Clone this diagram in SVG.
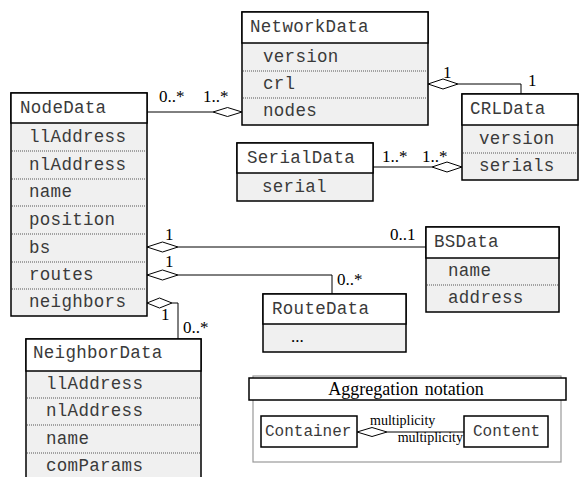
<svg xmlns="http://www.w3.org/2000/svg" width="579" height="477" viewBox="0 0 579 477">
<style>
.box{fill:#f0f0f0;stroke:#000;stroke-width:1.5}
.hdr{fill:#fff;stroke:#000;stroke-width:1.5}
.sep{stroke:#555;stroke-width:1;stroke-dasharray:1,1}
.t{font-family:"Liberation Mono","Courier New",monospace;font-size:17.5px;letter-spacing:0.3px;fill:#3a3a3a}
.s{font-family:"Liberation Mono","Courier New",monospace;font-size:16px;fill:#3a3a3a}
.m{font-family:"Liberation Serif","Times New Roman",serif;font-size:17px;fill:#000}
.ms{font-family:"Liberation Serif","Times New Roman",serif;font-size:14px;fill:#000}
.ln{fill:none;stroke:#000;stroke-width:1}
.dia{fill:#fff;stroke:#000;stroke-width:1}
</style>
<g id="connectors">
<line class="ln" x1="147" y1="112" x2="213" y2="112"/>
<polygon class="dia" points="213,112 227.5,107.5 242,112 227.5,116.5"/>
<polyline class="ln" points="458,84 521,84 521,94"/>
<polygon class="dia" points="428,84 443,79 458,84 443,89"/>
<line class="ln" x1="373" y1="167" x2="432" y2="167"/>
<polygon class="dia" points="432,167 447,162 462,167 447,172"/>
<line class="ln" x1="178" y1="247" x2="426" y2="247"/>
<polygon class="dia" points="147,247 162.5,242 178,247 162.5,252"/>
<polyline class="ln" points="178,275 332,275 332,294"/>
<polygon class="dia" points="147,275 162.5,270 178,275 162.5,280"/>
<polyline class="ln" points="172,303 178,303 178,339"/>
<polygon class="dia" points="147,303 159.5,298 172,303 159.5,308"/>
<text class="m" x="159" y="102">0..*</text>
<text class="m" x="203" y="102">1..*</text>
<text class="m" x="443" y="78">1</text>
<text class="m" x="528" y="86">1</text>
<text class="m" x="382" y="162">1..*</text>
<text class="m" x="422" y="162">1..*</text>
<text class="m" x="165" y="240">1</text>
<text class="m" x="390" y="240">0..1</text>
<text class="m" x="165" y="267">1</text>
<text class="m" x="337" y="285">0..*</text>
<text class="m" x="161" y="320">1</text>
<text class="m" x="183" y="333">0..*</text>
</g>
<g id="NetworkData">
<rect class="box" x="242" y="12" width="186" height="113"/>
<rect class="hdr" x="242" y="12" width="186" height="31"/>
<line class="sep" x1="243" y1="71" x2="427" y2="71"/>
<line class="sep" x1="243" y1="98" x2="427" y2="98"/>
<text class="t" x="250" y="32">NetworkData</text>
<text class="t" x="263" y="62">version</text>
<text class="t" x="263" y="89">crl</text>
<text class="t" x="263" y="116">nodes</text>
</g>
<g id="NodeData">
<rect class="box" x="11" y="93" width="136" height="223"/>
<rect class="hdr" x="11" y="93" width="136" height="30"/>
<line class="sep" x1="12" y1="151" x2="146" y2="151"/>
<line class="sep" x1="12" y1="179" x2="146" y2="179"/>
<line class="sep" x1="12" y1="206" x2="146" y2="206"/>
<line class="sep" x1="12" y1="234" x2="146" y2="234"/>
<line class="sep" x1="12" y1="262" x2="146" y2="262"/>
<line class="sep" x1="12" y1="289" x2="146" y2="289"/>
<text class="t" x="20" y="113">NodeData</text>
<text class="t" x="29" y="142">llAddress</text>
<text class="t" x="29" y="170">nlAddress</text>
<text class="t" x="29" y="197">name</text>
<text class="t" x="29" y="225">position</text>
<text class="t" x="29" y="253">bs</text>
<text class="t" x="29" y="280">routes</text>
<text class="t" x="29" y="307">neighbors</text>
</g>
<g id="CRLData">
<rect class="box" x="462" y="94" width="116" height="86"/>
<rect class="hdr" x="462" y="94" width="116" height="31"/>
<line class="sep" x1="463" y1="153" x2="577" y2="153"/>
<text class="t" x="470" y="114">CRLData</text>
<text class="t" x="479" y="144">version</text>
<text class="t" x="479" y="171">serials</text>
</g>
<g id="SerialData">
<rect class="box" x="237" y="143" width="136" height="58"/>
<rect class="hdr" x="237" y="143" width="136" height="30"/>
<text class="t" x="247" y="163">SerialData</text>
<text class="t" x="262" y="192">serial</text>
</g>
<g id="BSData">
<rect class="box" x="426" y="227" width="133" height="85"/>
<rect class="hdr" x="426" y="227" width="133" height="31"/>
<line class="sep" x1="427" y1="285" x2="558" y2="285"/>
<text class="t" x="434" y="247">BSData</text>
<text class="t" x="448" y="276">name</text>
<text class="t" x="448" y="303">address</text>
</g>
<g id="RouteData">
<rect class="box" x="263" y="294" width="143" height="58"/>
<rect class="hdr" x="263" y="294" width="143" height="30"/>
<text class="t" x="272" y="314">RouteData</text>
<text class="m" x="291" y="342">...</text>
</g>
<g id="NeighborData">
<rect class="box" x="26" y="339" width="175" height="150"/>
<rect class="hdr" x="26" y="339" width="175" height="32"/>
<line class="sep" x1="27" y1="398" x2="200" y2="398"/>
<line class="sep" x1="27" y1="425" x2="200" y2="425"/>
<line class="sep" x1="27" y1="453" x2="200" y2="453"/>
<text class="t" x="33" y="358">NeighborData</text>
<text class="t" x="46" y="389">llAddress</text>
<text class="t" x="46" y="416">nlAddress</text>
<text class="t" x="46" y="444">name</text>
<text class="t" x="46" y="471">comParams</text>
</g>
<g id="legend">
<rect x="253" y="376" width="308" height="86" fill="#fff" stroke="#999" stroke-width="1.2"/>
<rect x="249" y="378" width="317" height="22" fill="#fff" stroke="#000" stroke-width="1.5"/>
<text x="406" y="395" text-anchor="middle" font-family="'Liberation Serif','Times New Roman',serif" font-size="18" word-spacing="2">Aggregation notation</text>
<rect x="261" y="416" width="96" height="31" fill="#fff" stroke="#000" stroke-width="1.5"/>
<rect x="464" y="416" width="84" height="31" fill="#fff" stroke="#000" stroke-width="1.5"/>
<text class="s" x="265" y="436">Container</text>
<text class="s" x="473" y="436">Content</text>
<line class="ln" x1="387" y1="432" x2="464" y2="432"/>
<polygon class="dia" points="357,432 372,427.5 387,432 372,436.5"/>
<text class="ms" x="370" y="425">multiplicity</text>
<text class="ms" x="463" y="442" text-anchor="end">multiplicity</text>
</g>
</svg>
